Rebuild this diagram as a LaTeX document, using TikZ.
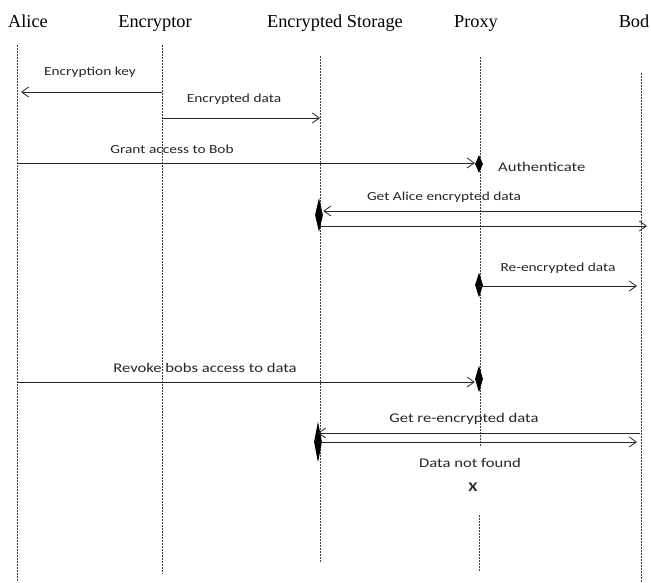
\documentclass[tikz,border=0pt]{standalone}
\usepackage{fontspec}
\setmainfont{Liberation Serif}
\newfontfamily\lblfont[FakeStretch=1.25]{Carlito}
\usetikzlibrary{arrows.meta,shapes.geometric}
\begin{document}
\begin{tikzpicture}[x=1pt,y=-1pt,
 life/.style={line width=0.6pt, black!75, dash pattern=on 2pt off 1pt},
 msg/.style={line width=0.8pt, black!85, -{Straight Barb[length=7pt,width=10pt,line width=0.8pt]}},
 head/.style={font=\fontsize{18.3}{20}\selectfont, inner sep=0pt, anchor=base},
 lbl/.style={font=\lblfont\fontsize{12.3}{14}\selectfont, text=black!85, inner sep=0pt, anchor=base},
 lblb/.style={font=\lblfont\fontsize{13.3}{15}\selectfont, text=black!85, inner sep=0pt, anchor=base},
 act/.style={diamond, fill=black, draw=none, inner sep=0pt, minimum width=8pt, minimum height=#1}
]
\useasboundingbox (0,0) rectangle (651,582);

% headers
\node[head] (hA) at (28,27) {Alice};
\node[head] (hE) at (155,27) {Encryptor};
\node[head] (hS) at (335,27) {Encrypted Storage};
\node[head] (hP) at (476,27) {Proxy};
\node[head] (hB) at (634,27) {Bod};

% lifeline ends
\coordinate (aT) at (17,45);  \coordinate (aB) at (17,582);
\coordinate (eT) at (162,45); \coordinate (eB) at (162,574);
\coordinate (sT) at (320,56); \coordinate (sB) at (320,563);
\coordinate (pT) at (480,57); \coordinate (pM) at (480,447);
\coordinate (pN) at (479,515); \coordinate (pB) at (479,572);
\coordinate (bT) at (641,73); \coordinate (bB) at (641,582);

\draw[life] (aT) -- (aB);
\draw[life] (eT) -- (eB);
\draw[life] (sT) -- (sB);
\draw[life] (pT) -- (pM);
\draw[life] (pN) -- (pB);
\draw[life] (bT) -- (bB);

% activations
\node[act=18pt] (d1) at (479,164) {};
\node[act=34pt] (d2) at (319,215) {};
\node[act=25pt] (d3) at (479,285) {};
\node[act=27pt] (d4) at (479,379) {};
\node[act=41pt] (d5) at (318,442) {};

% message end points
\coordinate (m1s) at (162,92);  \coordinate (m1e) at (21,92);
\coordinate (m2s) at (162,118); \coordinate (m2e) at (320,118);
\coordinate (m3s) at (17,163);
\coordinate (m4s) at (641,211);
\coordinate (m5e) at (647,226);
\coordinate (m6e) at (637,286);
\coordinate (m7s) at (17,382);
\coordinate (m8s) at (640,433);
\coordinate (m9e) at (637,442);

\draw[msg] (m1s) -- (m1e);
\draw[msg] (m2s) -- (m2e);
\draw[msg] (m3s) -- (d1.west |- m3s);
\draw[msg] (m4s) -- (d2.east |- m4s);
\draw[msg] (d2.center |- m5e) -- (m5e);
\draw[msg] (d3.center |- m6e) -- (m6e);
\draw[msg] (m7s) -- (d4.west |- m7s);
\draw[msg] (m8s) -- (d5.center |- m8s);
\draw[msg] (d5.center |- m9e) -- (m9e);

% labels
\node[lbl] (l1) at (90,75) {Encryption key};
\node[lbl] (l2) at (234,102) {Encrypted data};
\node[lbl] (l3) at (172,153) {Grant access to Bob};
\node[lblb, anchor=base west] (l3b) at (498,171) {Authenticate};
\node[lbl] (l4) at (444,200) {Get Alice encrypted data};
\node[lbl] (l6) at (558,271) {Re-encrypted data};
\node[lblb] (l7) at (205,372) {Revoke bobs access to data};
\node[lblb] (l8) at (464,422) {Get re-encrypted data};
\node[lblb] (l9) at (470,467) {Data not found};
\node[lblb, anchor=center] (lx) at (473,487) {\bfseries X};
\end{tikzpicture}
\end{document}
